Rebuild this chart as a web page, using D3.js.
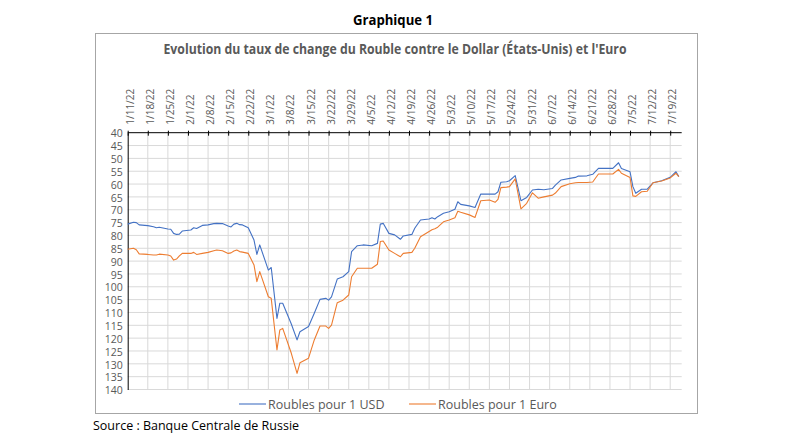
<!DOCTYPE html>
<html><head><meta charset="utf-8">
<script src="https://cdn.jsdelivr.net/npm/d3@7"></script>
<style>body{margin:0;background:#fff}svg{display:block}text{font-family:"Open Sans",sans-serif}</style>
</head><body><svg id="c" width="789" height="445"></svg>
<script>
const dates = ["2022-01-11","2022-01-13","2022-01-14","2022-01-15","2022-01-18","2022-01-20","2022-01-21","2022-01-22","2022-01-25","2022-01-26","2022-01-27","2022-01-28","2022-01-29","2022-01-30","2022-02-02","2022-02-03","2022-02-04","2022-02-06","2022-02-08","2022-02-10","2022-02-11","2022-02-13","2022-02-15","2022-02-16","2022-02-17","2022-02-18","2022-02-19","2022-02-20","2022-02-22","2022-02-24","2022-02-25","2022-02-26","2022-03-01","2022-03-02","2022-03-04","2022-03-05","2022-03-06","2022-03-09","2022-03-11","2022-03-12","2022-03-15","2022-03-17","2022-03-19","2022-03-21","2022-03-22","2022-03-23","2022-03-25","2022-03-27","2022-03-29","2022-03-30","2022-04-01","2022-04-03","2022-04-06","2022-04-08","2022-04-09","2022-04-10","2022-04-12","2022-04-14","2022-04-16","2022-04-17","2022-04-20","2022-04-21","2022-04-23","2022-04-26","2022-04-27","2022-04-28","2022-04-29","2022-05-01","2022-05-03","2022-05-05","2022-05-06","2022-05-07","2022-05-10","2022-05-12","2022-05-14","2022-05-17","2022-05-19","2022-05-20","2022-05-21","2022-05-23","2022-05-24","2022-05-26","2022-05-28","2022-05-30","2022-06-01","2022-06-03","2022-06-05","2022-06-08","2022-06-09","2022-06-11","2022-06-14","2022-06-16","2022-06-17","2022-06-20","2022-06-22","2022-06-24","2022-06-29","2022-07-01","2022-07-02","2022-07-05","2022-07-06","2022-07-07","2022-07-09","2022-07-11","2022-07-13","2022-07-16","2022-07-19","2022-07-21","2022-07-22"];
const usd = [75.6,74.9,75.0,75.9,76.2,76.6,77.0,76.8,77.5,77.6,79.2,79.6,79.5,78.3,77.9,77.0,77.3,76.1,75.9,75.4,75.3,75.4,76.3,76.7,75.6,75.3,75.8,75.9,77.0,81.8,87.4,83.7,93.5,92.5,112.3,106.4,106.4,114.5,120.7,117.5,115.5,110.3,104.9,104.5,105.2,103.9,97.0,96.1,94.1,86.3,84.0,83.7,84.0,83.1,75.6,75.3,79.2,79.8,81.5,80.2,79.6,77.2,74.0,73.6,73.1,73.6,72.7,71.4,70.8,69.8,66.9,67.9,68.5,69.1,63.9,63.9,63.9,63.0,59.3,59.1,58.7,56.7,66.5,65.2,62.3,62.0,62.2,61.7,60.4,58.4,57.8,57.4,56.9,56.8,56.2,53.9,53.9,51.7,53.9,55.2,61.0,63.6,62.0,62.0,59.5,58.7,57.4,55.2,57.1];
const eur = [85.4,85.0,85.6,87.2,87.4,87.6,87.6,87.3,87.6,88.0,89.6,89.2,88.0,87.0,87.0,86.6,87.4,87.0,86.6,86.0,85.7,86.0,87.0,86.8,86.1,85.7,86.3,86.5,87.0,91.5,98.0,94.1,103.9,104.5,124.6,116.8,116.2,125.9,133.7,129.6,127.8,120.7,115.3,115.3,116.2,114.9,106.2,105.2,103.2,96.1,92.8,92.8,92.8,91.2,82.4,82.2,85.7,87.0,88.3,87.0,86.6,85.0,80.5,78.5,77.8,77.4,76.8,74.7,74.0,73.1,70.6,71.0,72.0,73.0,66.5,66.2,67.1,66.0,61.4,61.2,61.0,58.0,69.7,67.5,63.4,65.5,65.0,64.3,63.5,61.0,59.9,59.5,59.4,59.4,59.2,56.1,56.1,54.3,55.8,57.4,64.6,64.8,63.0,62.8,59.5,58.8,57.6,55.8,57.1];
const tickLabels = ["1/11/22","1/18/22","1/25/22","2/1/22","2/8/22","2/15/22","2/22/22","3/1/22","3/8/22","3/15/22","3/22/22","3/29/22","4/5/22","4/12/22","4/19/22","4/26/22","5/3/22","5/10/22","5/17/22","5/24/22","5/31/22","6/7/22","6/14/22","6/21/22","6/28/22","7/5/22","7/12/22","7/19/22"];
const yTickValues = [40,45,50,55,60,65,70,75,80,85,90,95,100,105,110,115,120,125,130,135,140];
const seriesNames = ["Roubles pour 1 USD","Roubles pour 1 Euro"];
const seriesColors = ["#4472C4","#ED7D31"];
const xDomain = ["2022-01-11","2022-07-23"];

const svg = d3.select("#c");
const parse = d3.utcParse("%Y-%m-%d");
const parseTick = d3.utcParse("%m/%d/%y");
const L = 127.7, R = 681.7, T = 132.7, B = 389.5;
const x = d3.scaleUtc().domain(xDomain.map(parse)).range([L, R]);
const y = d3.scaleLinear().domain([40, 140]).range([T, B]);
const tickDates = tickLabels.map(parseTick);

// frame
svg.append("rect").attr("x",95.5).attr("y",33.5).attr("width",602).attr("height",380)
  .attr("fill","#fff").attr("stroke","#a6a6a6").attr("stroke-width",1);

svg.append("text").attr("x",393).attr("y",25).attr("text-anchor","middle")
  .attr("font-size",13.5).attr("font-weight",700).attr("fill","#000")
  .attr("textLength",80).attr("lengthAdjust","spacingAndGlyphs").text("Graphique 1");
svg.append("text").attr("x",395).attr("y",54).attr("text-anchor","middle")
  .attr("font-size",13.5).attr("font-weight",700).attr("fill","#595959")
  .attr("textLength",463).attr("lengthAdjust","spacingAndGlyphs")
  .text("Evolution du taux de change du Rouble contre le Dollar (États-Unis) et l'Euro");

// gridlines
const g = svg.append("g");
g.selectAll("line.h").data(yTickValues.slice(1)).join("line")
  .attr("x1",L).attr("x2",R).attr("y1",d=>y(d)).attr("y2",d=>y(d))
  .attr("stroke","#d9d9d9").attr("stroke-width",1);
g.selectAll("line.v").data(tickDates.slice(1)).join("line")
  .attr("x1",d=>x(d)).attr("x2",d=>x(d)).attr("y1",T).attr("y2",B)
  .attr("stroke","#d9d9d9").attr("stroke-width",1);

// y axis
const yAxis = d3.axisLeft(y).tickValues(yTickValues).tickSize(0).tickPadding(5);
const ya = svg.append("g").attr("transform",`translate(${L},0)`).call(yAxis);
ya.select(".domain").attr("stroke","#000").attr("stroke-width",1);
ya.selectAll("text").attr("font-family","Liberation Sans").attr("font-size",10.5).attr("fill","#595959").attr("dy","0.4em");

// x axis (top, since y reversed)
const xAxis = d3.axisTop(x).tickValues(tickDates).tickSize(3).tickFormat((d,i)=>tickLabels[i]);
const xa = svg.append("g").attr("transform",`translate(0,${T})`).call(xAxis);
xa.select(".domain").attr("stroke","#000").attr("d",`M${L},0H${R}`);
xa.selectAll(".tick line").attr("stroke","#000").attr("y1",3).attr("y2",-2);
xa.selectAll("text").attr("font-family","Open Sans").attr("font-size",10).attr("fill","#595959")
  .attr("transform","rotate(-90)").attr("text-anchor","start").attr("x",8).attr("y",0).attr("dy","0.55em");

// lines
const pts = dates.map(parse);
const line = d3.line().x(d=>x(d[0])).y(d=>y(d[1]));
[usd, eur].forEach((vals,k)=>{
  svg.append("path").datum(pts.map((p,i)=>[p,vals[i]]))
    .attr("d",line).attr("fill","none").attr("stroke",seriesColors[k])
    .attr("stroke-width",1.1).attr("stroke-linejoin","round");
});

// legend
const legX = [239, 409];
seriesNames.forEach((n,k)=>{
  svg.append("line").attr("x1",legX[k]).attr("x2",legX[k]+27).attr("y1",404).attr("y2",404)
    .attr("stroke",seriesColors[k]).attr("stroke-width",1.1);
  svg.append("text").attr("x",legX[k]+29).attr("y",408.5).attr("font-size",12.5).attr("fill","#595959").text(n);
});

svg.append("text").attr("x",93).attr("y",430).attr("font-size",12.5).attr("fill","#000")
  .text("Source : Banque Centrale de Russie");
</script></body></html>
